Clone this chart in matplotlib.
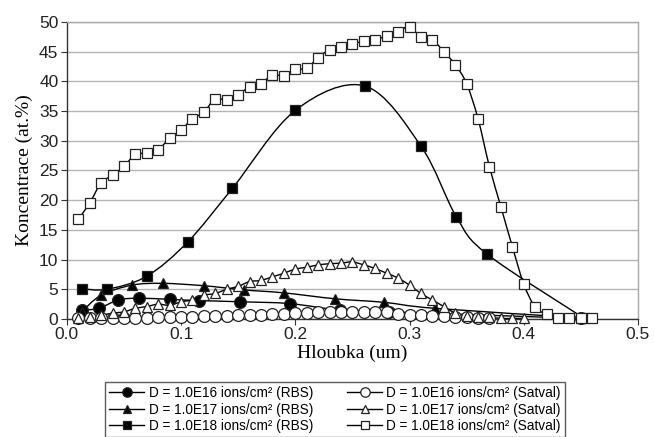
import numpy as np
import matplotlib
matplotlib.use("Agg")
import matplotlib.pyplot as plt
from matplotlib.path import Path
from matplotlib.patches import PathPatch
from matplotlib.lines import Line2D

# ---- data ----
x_sat18 = [0.01, 0.02, 0.03, 0.04, 0.05, 0.06, 0.07, 0.08, 0.09, 0.10,
           0.11, 0.12, 0.13, 0.14, 0.15, 0.16, 0.17, 0.18, 0.19, 0.20,
           0.21, 0.22, 0.23, 0.24, 0.25, 0.26, 0.27, 0.28, 0.29, 0.30,
           0.31, 0.32, 0.33, 0.34, 0.35, 0.36, 0.37, 0.38, 0.39, 0.40,
           0.41, 0.42, 0.43, 0.44, 0.45, 0.46]
sat18 = [16.8, 19.5, 22.9, 24.2, 25.7, 27.7, 27.9, 28.5, 30.4, 31.8,
         33.7, 34.8, 37.1, 36.8, 37.7, 39.1, 39.6, 41.1, 40.9, 42.0,
         42.2, 44.0, 45.3, 45.7, 46.3, 46.7, 46.9, 47.7, 48.3, 49.2,
         47.4, 47.0, 45.0, 42.8, 39.6, 33.7, 25.6, 18.9, 12.2, 5.9,
         2.0, 0.8, 0.2, 0.1, 0.1, 0.1]
x_sat17 = [0.01, 0.02, 0.03, 0.04, 0.05, 0.06, 0.07, 0.08, 0.09, 0.10,
           0.11, 0.12, 0.13, 0.14, 0.15, 0.16, 0.17, 0.18, 0.19, 0.20,
           0.21, 0.22, 0.23, 0.24, 0.25, 0.26, 0.27, 0.28, 0.29, 0.30,
           0.31, 0.32, 0.33, 0.34, 0.35, 0.36, 0.37, 0.38, 0.39, 0.40]
sat17 = [0.2, 0.3, 0.6, 1.0, 1.2, 1.8, 2.1, 2.5, 2.3, 2.9,
         3.2, 4.0, 4.3, 5.0, 5.5, 6.3, 6.5, 7.1, 7.7, 8.4,
         8.7, 9.1, 9.3, 9.4, 9.6, 9.1, 8.5, 7.7, 6.9, 5.7,
         4.3, 3.2, 2.1, 1.0, 0.5, 0.4, 0.3, 0.1, 0.1, 0.1]
x_sat16 = [0.01, 0.02, 0.03, 0.04, 0.05, 0.06, 0.07, 0.08, 0.09, 0.10,
           0.11, 0.12, 0.13, 0.14, 0.15, 0.16, 0.17, 0.18, 0.19, 0.20,
           0.21, 0.22, 0.23, 0.24, 0.25, 0.26, 0.27, 0.28, 0.29, 0.30,
           0.31, 0.32, 0.33, 0.34, 0.35, 0.36, 0.37]
sat16 = [0.1, 0.1, 0.1, 0.15, 0.2, 0.2, 0.25, 0.3, 0.3, 0.35,
         0.4, 0.45, 0.5, 0.55, 0.6, 0.65, 0.75, 0.8, 0.9, 1.0,
         1.05, 1.1, 1.15, 1.2, 1.2, 1.2, 1.15, 1.1, 0.9, 0.7,
         0.6, 0.5, 0.45, 0.4, 0.3, 0.2, 0.1]

x_rbs18 = [0.013, 0.035, 0.070, 0.106, 0.145, 0.200, 0.261, 0.310, 0.341, 0.368, 0.453]
rbs18 = [5.1, 5.0, 7.2, 13.0, 22.0, 35.1, 39.2, 29.1, 17.2, 10.9, 0.1]
x_rbs17 = [0.013, 0.030, 0.057, 0.084, 0.120, 0.155, 0.190, 0.235, 0.278, 0.322, 0.450]
rbs17 = [1.2, 4.0, 5.7, 6.0, 5.6, 4.9, 4.4, 3.4, 2.8, 1.8, 0.2]
x_rbs16 = [0.013, 0.028, 0.045, 0.063, 0.090, 0.116, 0.152, 0.195, 0.239, 0.282, 0.450]
rbs16 = [1.5, 1.8, 3.2, 3.5, 3.3, 3.1, 2.9, 2.6, 1.5, 1.2, 0.1]

labels_rbs = ["D = 1.0E16 ions/cm² (RBS)", "D = 1.0E17 ions/cm² (RBS)",
              "D = 1.0E18 ions/cm² (RBS)"]
labels_sat = ["D = 1.0E16 ions/cm² (Satval)", "D = 1.0E17 ions/cm² (Satval)",
              "D = 1.0E18 ions/cm² (Satval)"]
xticks = [0.0, 0.1, 0.2, 0.3, 0.4, 0.5]
yticks = [0, 5, 10, 15, 20, 25, 30, 35, 40, 45, 50]


def smooth_path(xs, ys):
    xs = np.asarray(xs, float)
    ys = np.asarray(ys, float)
    P = np.column_stack([xs, ys])
    n = len(P)
    verts = [P[0]]
    codes = [Path.MOVETO]
    for i in range(n - 1):
        p0 = P[i - 1] if i > 0 else P[i]
        p1 = P[i]
        p2 = P[i + 1]
        p3 = P[i + 2] if i + 2 < n else P[i + 1]
        c1 = p1 + (p2 - p0) / 6.0
        c2 = p2 - (p3 - p1) / 6.0
        verts += [c1, c2, p2]
        codes += [Path.CURVE4] * 3
    return Path(verts, codes)


fig = plt.figure(figsize=(6.55, 4.37), dpi=100)
ax = fig.add_axes([0.102, 0.270, 0.872, 0.680])

ax.set_xlim(0, 0.5)
ax.set_ylim(0, 50)
ax.set_xticks(xticks)
ax.set_xticklabels([f"{v:.1f}" for v in xticks])
ax.set_yticks(yticks)
ax.grid(axis="y", color="#b4b4b4", lw=1.0)
ax.set_axisbelow(True)
for s in ["top", "right"]:
    ax.spines[s].set_color("#a8a8a8")
    ax.spines[s].set_linewidth(1.0)
for s in ["left", "bottom"]:
    ax.spines[s].set_color("#333333")
    ax.spines[s].set_linewidth(1.0)
ax.tick_params(axis="both", direction="out", length=4, color="#333333",
               labelsize=12.5, pad=2)
for lab in ax.get_xticklabels() + ax.get_yticklabels():
    lab.set_fontfamily("Liberation Sans")
    lab.set_color("#222222")

rbs_series = [
    (x_rbs16, rbs16, "o", 8.5),
    (x_rbs17, rbs17, "^", 7.5),
    (x_rbs18, rbs18, "s", 6.5),
]
sat_series = [
    (x_sat16, sat16, "o", 8.5),
    (x_sat17, sat17, "^", 7.5),
    (x_sat18, sat18, "s", 7.0),
]

handles = []
for group, fc in ((rbs_series, "black"), (sat_series, "white")):
    for xs, ys, m, ms in group:
        ax.add_patch(PathPatch(smooth_path(xs, ys), facecolor="none",
                               edgecolor="black", lw=1.0, zorder=2))
        ax.plot(xs, ys, ls="none", marker=m, ms=ms, mfc=fc, mec="#222222",
                mew=0.9, zorder=3, clip_on=False)
        handles.append(Line2D([], [], color="black", lw=1.0, marker=m,
                              ms=ms * 0.8, mfc=fc, mec="#222222", mew=0.9))

ax.set_ylabel("Koncentrace (at.%)", fontfamily="Liberation Serif",
              fontsize=14, labelpad=4)
ax.set_xlabel("Hloubka (um)", fontfamily="Liberation Serif",
              fontsize=14, labelpad=2)

leg = fig.legend(handles, labels_rbs + labels_sat, loc="upper left",
                 bbox_to_anchor=(105 / 655, 1 - 382 / 437), ncol=2,
                 prop={"family": "Liberation Sans", "size": 9.8},
                 frameon=True, fancybox=False, edgecolor="#333333",
                 handlelength=2.6, handletextpad=0.3, columnspacing=2.5,
                 borderpad=0.3, labelspacing=0.18, borderaxespad=0)
leg.get_frame().set_linewidth(1.0)

fig.savefig("out.png", dpi=100)
